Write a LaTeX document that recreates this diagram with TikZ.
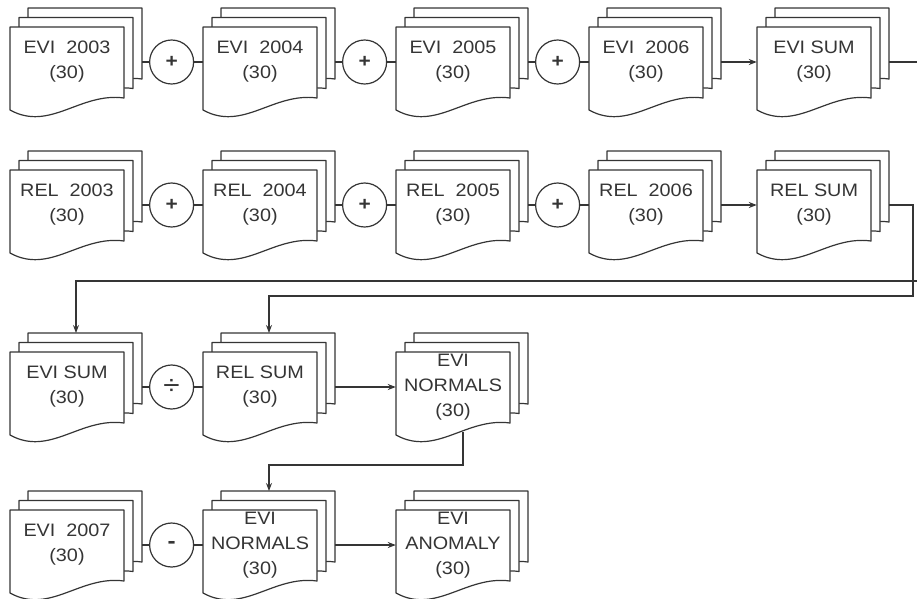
\documentclass[tikz,border=0pt]{standalone}
\usepackage{fontspec}
\setmainfont[FakeStretch=1.1]{Liberation Sans}
\usetikzlibrary{arrows.meta,positioning,calc}
\definecolor{ink}{HTML}{353535}

% stack of three sheets; name, centre, text
\newcommand{\docstack}[3]{%
  \foreach \d in {2,1,0}
    \filldraw[sheet, shift={(#2)}, shift={({9*\d},{-9.5*\d})}]
      (-57,-35) -- (57,-35) -- (57,36) .. controls (13,30) and (-17,70) .. (-57,48) -- cycle;
  \node[doctext] (#1) at (#2) {#3};
  \coordinate (#1-out) at ($(#1.center)+(75,0)$);
  \coordinate (#1-in) at ($(#1.center)+(9,-54)$);
  \coordinate (#1-bot) at ($(#1.center)+(10,45)$);
}

\begin{document}
\begin{tikzpicture}[
  x=1pt, y=-1pt,
  sheet/.style={
    draw=ink,
    fill=white,
    line width=1.2pt,
    line join=round
  },
  doctext/.style={
    align=center,
    text=ink,
    minimum width=114pt,
    inner sep=0pt,
    font=\fontsize{18}{25}\selectfont
  },
  opcircle/.style={
    circle,
    draw=ink,
    fill=white,
    line width=1.2pt,
    minimum size=44pt,
    inner sep=0pt,
    text=ink,
    font=\fontsize{19}{19}\selectfont\bfseries
  },
  link/.style={draw=ink, line width=1.2pt},
  flow/.style={link, -{Stealth[length=8pt,width=6pt]}}
]
\useasboundingbox (0,0) rectangle (917,598);

% EVI row
\docstack{evi03}{67,62}{EVI~~2003\\(30)}
\docstack{evi04}{260,62}{EVI~~2004\\(30)}
\docstack{evi05}{453,62}{EVI~~2005\\(30)}
\docstack{evi06}{646,62}{EVI~~2006\\(30)}
\docstack{evisum}{814,62}{EVI SUM\\(30)}
\node[opcircle, right=7pt of evi03-out] (eadd1) {+};
\node[opcircle, right=7pt of evi04-out] (eadd2) {+};
\node[opcircle, right=7pt of evi05-out] (eadd3) {+};

% REL row
\docstack{rel03}{67,205}{REL~~2003\\(30)}
\docstack{rel04}{260,205}{REL~~2004\\(30)}
\docstack{rel05}{453,205}{REL~~2005\\(30)}
\docstack{rel06}{646,205}{REL~~2006\\(30)}
\docstack{relsum}{814,205}{REL SUM\\(30)}
\node[opcircle, right=7pt of rel03-out] (radd1) {+};
\node[opcircle, right=7pt of rel04-out] (radd2) {+};
\node[opcircle, right=7pt of rel05-out] (radd3) {+};

% normals
\docstack{evisum2}{67,387}{EVI SUM\\(30)}
\docstack{relsum2}{260,387}{REL SUM\\(30)}
\docstack{normals}{453,387}{EVI\\NORMALS\\(30)}
\node[opcircle, right=7pt of evisum2-out, font=\fontsize{27}{27}\selectfont] (div) {÷};

% anomaly
\docstack{evi07}{67,545}{EVI~~2007\\(30)}
\docstack{normals2}{260,545}{EVI\\NORMALS\\(30)}
\docstack{anomaly}{453,545}{EVI\\ANOMALY\\(30)}
\node[opcircle, right=7pt of evi07-out, font=\fontsize{22}{22}\selectfont\bfseries] (sub) {-};

\coordinate (wrapE) at (918,281);
\coordinate (wrapR) at (913,296);

\draw[link] (evi03-out) -- (eadd1) -- (evi04);
\draw[link] (evi04-out) -- (eadd2) -- (evi05);
\draw[link] (evi05-out) -- (eadd3) -- (evi06);
\draw[flow] (evi06-out) -- (evisum);
\draw[link] (rel03-out) -- (radd1) -- (rel04);
\draw[link] (rel04-out) -- (radd2) -- (rel05);
\draw[link] (rel05-out) -- (radd3) -- (rel06);
\draw[flow] (rel06-out) -- (relsum);
\draw[flow] (evisum-out) -| (wrapE) -| (evisum2-in);
\draw[flow] (relsum-out) -| (wrapR) -| (relsum2-in);
\draw[link] (evisum2-out) -- (div) -- (relsum2);
\draw[flow] (relsum2-out) -- (normals);
\draw[flow] (normals-bot) -- ++(0,33) -| (normals2-in);
\draw[link] (evi07-out) -- (sub) -- (normals2);
\draw[flow] (normals2-out) -- (anomaly);

\end{tikzpicture}
\end{document}
